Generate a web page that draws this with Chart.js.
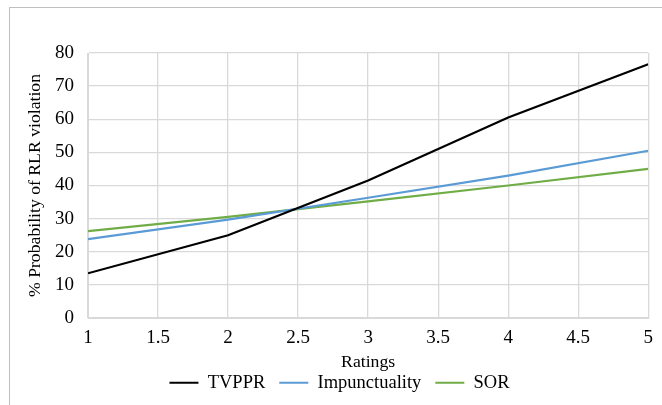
<!DOCTYPE html>
<html>
<head>
<meta charset="utf-8">
<script src="https://cdn.jsdelivr.net/npm/chart.js@4"></script>
<style>
  body { margin: 0; background: #fff; }
  #wrap { position: relative; width: 662px; height: 405px; overflow: hidden; }
  #frame { position: absolute; left: 9px; top: 7px; width: 700px; height: 450px; border: 1.5px solid #bfbfbf; }
  canvas { position: absolute; left: 0; top: 0; }
</style>
</head>
<body>
<div id="wrap">
  <div id="frame"></div>
  <canvas id="myChart" width="662" height="405"></canvas>
</div>
<script>
const ratings = [1, 2, 3, 4, 5];
const tvppr = [13.5, 25, 41.5, 60.5, 76.6];
const impunctuality = [23.8, 29.7, 36.3, 43, 50.5];
const sor = [26.2, 30.5, 35.2, 40, 45];
const seriesNames = ['TVPPR', 'Impunctuality', 'SOR'];

const family = '"Liberation Serif", "Times New Roman", serif';
const tickFont = { family: family, size: 19 };
const legendFont = { family: family, size: 18.5 };
const titleFont = { family: family, size: 17.7 };

function points(vals) {
  return ratings.map((r, i) => ({ x: r, y: vals[i] }));
}

const ctx = document.getElementById('myChart').getContext('2d');
new Chart(ctx, {
  type: 'line',
  data: {
    datasets: [
      { label: seriesNames[0], data: points(tvppr), borderColor: '#000000', backgroundColor: '#000000', borderWidth: 2.2 },
      { label: seriesNames[1], data: points(impunctuality), borderColor: '#5b9bd5', backgroundColor: '#5b9bd5', borderWidth: 2.2 },
      { label: seriesNames[2], data: points(sor), borderColor: '#70ad47', backgroundColor: '#70ad47', borderWidth: 2.2 }
    ]
  },
  options: {
    responsive: false,
    animation: false,
    elements: { point: { radius: 0 }, line: { tension: 0 } },
    layout: { padding: { left: 25, right: 8, top: 53, bottom: 3 } },
    plugins: {
      legend: {
        position: 'bottom',
        labels: {
          font: legendFont,
          color: '#000',
          usePointStyle: true,
          pointStyle: 'line',
          pointStyleWidth: 29,
          boxHeight: 2,
          padding: 14
        }
      },
      tooltip: { enabled: false }
    },
    scales: {
      x: {
        type: 'linear',
        min: 1,
        max: 5,
        ticks: { stepSize: 0.5, font: tickFont, color: '#000', padding: 9, callback: v => String(v) },
        grid: { color: '#d9d9d9', lineWidth: 1.3, drawTicks: false },
        border: { color: '#d9d9d9' },
        title: { display: true, text: 'Ratings', font: titleFont, color: '#000', padding: { top: 0, bottom: -13 } },
        afterFit: scale => { scale.height = 41.5; }
      },
      y: {
        min: 0,
        max: 80,
        ticks: { stepSize: 10, font: tickFont, color: '#000', padding: 14, callback: v => String(v) },
        grid: { color: '#d9d9d9', lineWidth: 1.3, drawTicks: false },
        border: { color: '#d9d9d9' },
        title: { display: true, text: '% Probability of RLR violation', font: titleFont, color: '#000', padding: { top: 0, bottom: 0 } },
        afterFit: scale => { scale.width = 63; }
      }
    }
  }
});
</script>
</body>
</html>
